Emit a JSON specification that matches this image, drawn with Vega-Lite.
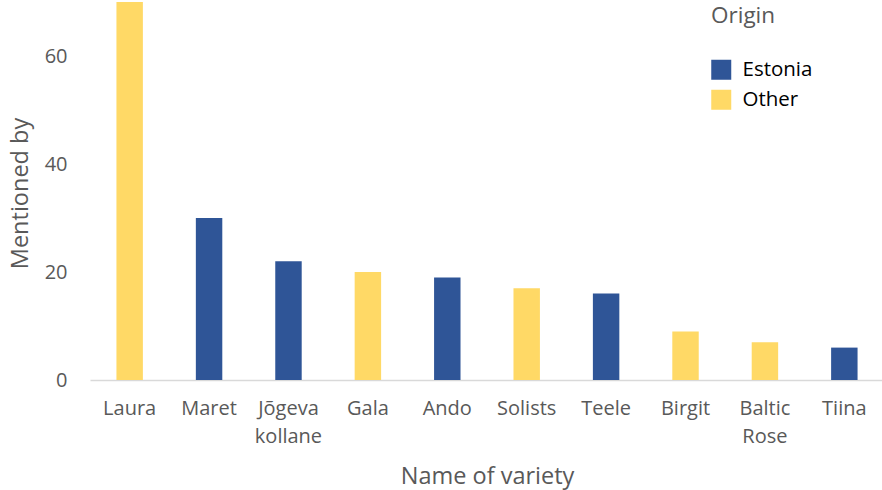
{
  "$schema": "https://vega.github.io/schema/vega-lite/v6.json",
  "width": 794,
  "height": 378,
  "autosize": {"type": "none"},
  "padding": {"left": 90, "top": 2, "right": 0, "bottom": 110},
  "config": {
    "font": "Open Sans",
    "view": {"stroke": null}
  },
  "data": {
    "values": [
      {"variety": "Laura", "count": 70, "origin": "Other"},
      {"variety": "Maret", "count": 30, "origin": "Estonia"},
      {"variety": "Jõgeva kollane", "count": 22, "origin": "Estonia"},
      {"variety": "Gala", "count": 20, "origin": "Other"},
      {"variety": "Ando", "count": 19, "origin": "Estonia"},
      {"variety": "Solists", "count": 17, "origin": "Other"},
      {"variety": "Teele", "count": 16, "origin": "Estonia"},
      {"variety": "Birgit", "count": 9, "origin": "Other"},
      {"variety": "Baltic Rose", "count": 7, "origin": "Other"},
      {"variety": "Tiina", "count": 6, "origin": "Estonia"}
    ]
  },
  "mark": {"type": "bar"},
  "encoding": {
    "x": {
      "field": "variety",
      "type": "nominal",
      "sort": null,
      "scale": {"paddingInner": 0.667, "paddingOuter": 0.333},
      "axis": {
        "title": "Name of variety",
        "labelAngle": 0,
        "labelExpr": "split(datum.label, ' ')",
        "labelFontSize": 20,
        "labelColor": "#595959",
        "labelPadding": 18,
        "labelLineHeight": 28,
        "ticks": false,
        "domainColor": "#D9D9D9",
        "domainWidth": 1.5,
        "grid": false,
        "titleFontSize": 23.5,
        "titleFontWeight": "normal",
        "titleColor": "#595959",
        "titleX": 397,
        "titleY": 96,
        "titleBaseline": "middle"
      }
    },
    "y": {
      "field": "count",
      "type": "quantitative",
      "scale": {"domain": [0, 70], "nice": false},
      "axis": {
        "title": "Mentioned by",
        "values": [0, 20, 40, 60],
        "labelFontSize": 20,
        "labelColor": "#595959",
        "labelPadding": 23,
        "ticks": false,
        "domain": false,
        "grid": false,
        "titleFontSize": 23.5,
        "titleFontWeight": "normal",
        "titleColor": "#595959",
        "titleX": -70,
        "titleY": 191,
        "titleAlign": "center",
        "titleBaseline": "middle"
      }
    },
    "color": {
      "field": "origin",
      "type": "nominal",
      "scale": {"domain": ["Estonia", "Other"], "range": ["#2F5597", "#FFD966"]},
      "legend": {
        "title": "Origin",
        "orient": "none",
        "legendX": 621,
        "legendY": 3,
        "titleFontSize": 22.5,
        "titleFontWeight": "normal",
        "titleColor": "#595959",
        "titlePadding": 32,
        "symbolType": "square",
        "symbolSize": 400,
        "symbolStrokeWidth": 0,
        "labelFontSize": 20.5,
        "labelColor": "#000000",
        "labelOffset": 11,
        "rowPadding": 9
      }
    }
  }
}
